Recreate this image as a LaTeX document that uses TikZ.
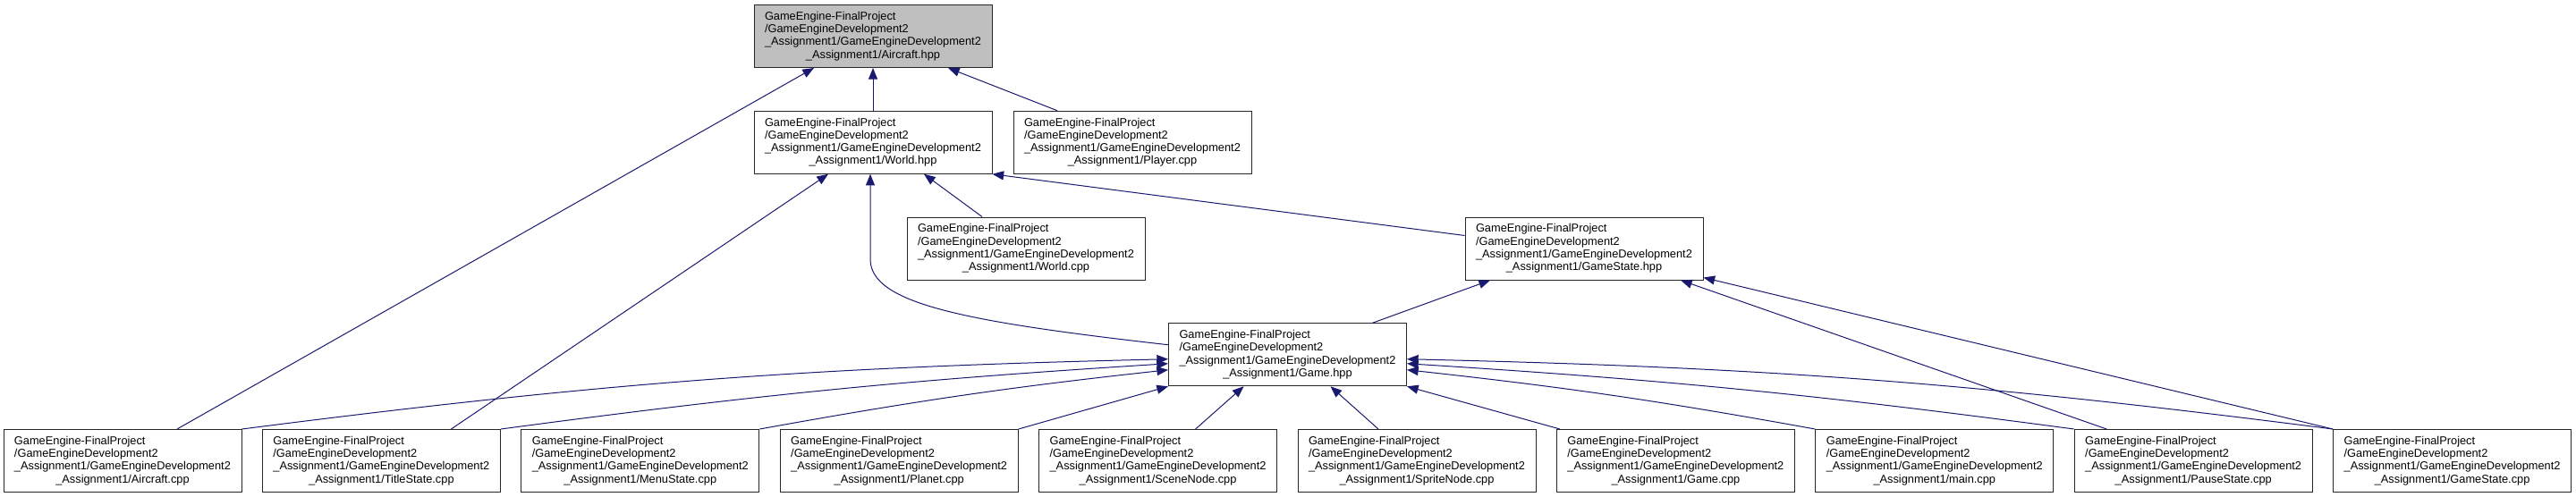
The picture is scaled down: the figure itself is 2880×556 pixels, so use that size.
\documentclass[tikz,border=0pt]{standalone}
\usepackage{fontspec}
\setmainfont{Liberation Sans}
\usepackage{xcolor}
\usetikzlibrary{arrows.meta, calc}

\definecolor{edgeblue}{HTML}{191970}
\definecolor{rootgray}{HTML}{BFBFBF}

\newcommand{\srcpath}[1]{GameEngine-FinalProject\\/GameEngineDevelopment2\\\_Assignment1/GameEngineDevelopment2\\\makebox[\linewidth]{\_Assignment1/#1}}

\begin{document}
\begin{tikzpicture}[
    x=0.75pt, y=-0.75pt,
    file/.style={draw=black!85, line width=0.75pt, fill=white, text width=181.5pt, inner xsep=9pt,
                 inner ysep=1pt, minimum height=52.5pt, align=left, font=\fontsize{9.6}{10.7}\selectfont},
    root/.style={file, fill=rootgray},
    inc/.style={draw=edgeblue, line width=0.75pt, -{Triangle[length=9.5pt, width=7.5pt]}},
]
\useasboundingbox (0,0) rectangle (2880,556);

\node[root] (ahpp)  at (976,40.5)    {\srcpath{Aircraft.hpp}};
\node[file] (whpp)  at (976,159.25)  {\srcpath{World.hpp}};
\node[file] (pcpp)  at (1266,159.25) {\srcpath{Player.cpp}};
\node[file] (wcpp)  at (1147,278)    {\srcpath{World.cpp}};
\node[file] (gshpp) at (1771,278)    {\srcpath{GameState.hpp}};
\node[file] (ghpp)  at (1439.5,396.75) {\srcpath{Game.hpp}};

% bottom row
\node[file] (acpp)  at (137,515.5)    {\srcpath{Aircraft.cpp}};
\node[file] (tscpp) at (426.4,515.5)  {\srcpath{TitleState.cpp}};
\node[file] (mscpp) at (715.8,515.5)  {\srcpath{MenuState.cpp}};
\node[file] (plcpp) at (1005.2,515.5) {\srcpath{Planet.cpp}};
\node[file] (sncpp) at (1294.6,515.5) {\srcpath{SceneNode.cpp}};
\node[file] (spcpp) at (1584,515.5)   {\srcpath{SpriteNode.cpp}};
\node[file] (gcpp)  at (1873.4,515.5) {\srcpath{Game.cpp}};
\node[file] (mcpp)  at (2162.8,515.5) {\srcpath{main.cpp}};
\node[file] (pscpp) at (2452.2,515.5) {\srcpath{PauseState.cpp}};
\node[file] (gscpp) at (2741.6,515.5) {\srcpath{GameState.cpp}};

% into Aircraft.hpp
\draw[inc] (whpp) -- (ahpp);
\draw[inc] ($(pcpp.north)+(-84,0)$) -- ($(ahpp.south)+(84,0)$);
\draw[inc] ($(acpp.north)+(61,0)$) -- ($(ahpp.south)+(-66,0)$);

% into World.hpp
\draw[inc] ($(tscpp.north)+(78,0)$) -- ($(whpp.south)+(-50,0)$);
\draw[inc] ($(wcpp.north)+(-49,0)$) -- ($(whpp.south)+(57,0)$);
\draw[inc] ($(gshpp.north west)+(0,21)$) -- (whpp.south east);
\draw[inc] ($(ghpp.west)+(0,-11)$) .. controls (1080,360) and (973,340) .. (973,290) -- ($(whpp.south)+(-3,0)$);

% into GameState.hpp
\draw[inc] ($(ghpp.north)+(95,0)$) -- ($(gshpp.south)+(-105,0)$);
\draw[inc] ($(pscpp.north)+(-97,0)$) -- ($(gshpp.south)+(108,0)$);
\draw[inc] (gscpp.north west) -- ($(gshpp.south east)+(0,-3)$);

% into Game.hpp
\draw[inc] (acpp.north east) to[bend left=3] ($(ghpp.west)+(0,5)$);
\draw[inc] (tscpp.north east) to[bend left=2] ($(ghpp.west)+(0,10)$);
\draw[inc] (mscpp.north east) to[bend left=2] ($(ghpp.west)+(0,17)$);
\draw[inc] (plcpp.north east) -- (ghpp.south west);
\draw[inc] ($(sncpp.north)+(42,0)$) -- ($(ghpp.south)+(-49,0)$);
\draw[inc] ($(spcpp.north)+(-43,0)$) -- ($(ghpp.south)+(48,0)$);
\draw[inc] ($(gcpp.north west)+(4,0)$) -- (ghpp.south east);
\draw[inc] (mcpp.north west) to[bend right=2] ($(ghpp.east)+(0,17)$);
\draw[inc] (pscpp.north west) to[bend right=2] ($(ghpp.east)+(0,10)$);
\draw[inc] (gscpp.north west) to[bend right=3] ($(ghpp.east)+(0,5)$);

\end{tikzpicture}
\end{document}
